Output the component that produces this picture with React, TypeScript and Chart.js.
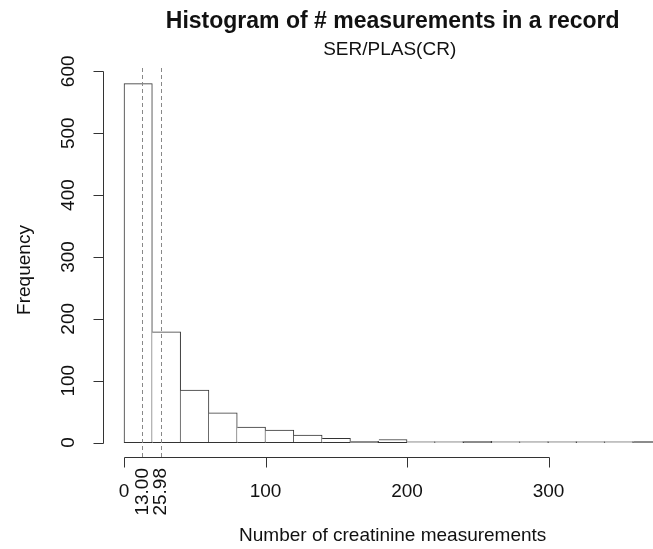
import React, { useEffect, useRef } from "react";
import { Chart, registerables } from "chart.js";

Chart.register(...registerables);

const binStarts = [0, 20, 40, 60, 80, 100, 120, 140, 160, 180, 200, 220, 240, 260, 280, 300, 320, 340, 360];
const binWidth = 20;
const counts = [580, 179, 85, 48, 25, 20, 12, 7, 2, 5, 1, 1, 2, 1, 1, 1, 1, 1, 2];
const yTicks = [0, 100, 200, 300, 400, 500, 600];
const xTicks = [0, 100, 200, 300];
const markerValues = [13.0, 25.98];
const markerLabels = ["13.00", "25.98"];
const titleText = "Histogram of # measurements in a record";
const subtitleText = "SER/PLAS(CR)";
const xTitle = "Number of creatinine measurements";
const yTitle = "Frequency";

const FONT = "'Liberation Sans', Arial, Helvetica, sans-serif";
const INK = "#333";
const PLOT_CENTER_X = 392.7;

const rPlugin = {
  id: "rStyle",
  afterDatasetsDraw(chart: any) {
    const { ctx, chartArea, scales } = chart;
    const xs = scales.x;
    ctx.save();
    ctx.strokeStyle = "#888";
    ctx.lineWidth = 1;
    ctx.setLineDash([4, 3]);
    markerValues.forEach((v) => {
      const px = Math.round(xs.getPixelForValue(v)) + 0.5;
      ctx.beginPath();
      ctx.moveTo(px, chartArea.top);
      ctx.lineTo(px, chartArea.bottom);
      ctx.stroke();
    });
    ctx.setLineDash([]);
    ctx.restore();
  },
  afterDraw(chart: any) {
    const { ctx, chartArea, scales } = chart;
    const xs = scales.x;
    const ys = scales.y;
    ctx.save();
    ctx.strokeStyle = INK;
    ctx.fillStyle = "#111";
    ctx.lineWidth = 1;

    // y axis
    const ax = Math.round(chartArea.left) + 0.5;
    const y0 = ys.getPixelForValue(yTicks[0]);
    const y1 = ys.getPixelForValue(yTicks[yTicks.length - 1]);
    ctx.beginPath();
    ctx.moveTo(ax, Math.round(y0) + 0.5);
    ctx.lineTo(ax, Math.round(y1) + 0.5);
    yTicks.forEach((t) => {
      const py = Math.round(ys.getPixelForValue(t)) + 0.5;
      ctx.moveTo(ax, py);
      ctx.lineTo(ax - 10, py);
    });
    ctx.stroke();
    ctx.font = `19px ${FONT}`;
    ctx.textAlign = "center";
    ctx.textBaseline = "middle";
    yTicks.forEach((t) => {
      const py = ys.getPixelForValue(t);
      ctx.save();
      ctx.translate(69, py);
      ctx.rotate(-Math.PI / 2);
      ctx.fillText(String(t), 0, 0);
      ctx.restore();
    });

    // x axis
    const by = Math.round(chartArea.bottom) + 0.5;
    const x0 = xs.getPixelForValue(xTicks[0]);
    const x1 = xs.getPixelForValue(xTicks[xTicks.length - 1]);
    ctx.beginPath();
    ctx.moveTo(Math.round(x0) + 0.5, by);
    ctx.lineTo(Math.round(x1) + 0.5, by);
    xTicks.forEach((t) => {
      const px = Math.round(xs.getPixelForValue(t)) + 0.5;
      ctx.moveTo(px, by);
      ctx.lineTo(px, by + 10);
    });
    ctx.stroke();
    ctx.textAlign = "center";
    ctx.textBaseline = "middle";
    xTicks.forEach((t) => {
      ctx.fillText(String(t), xs.getPixelForValue(t), 492);
    });
    markerValues.forEach((v, i) => {
      ctx.save();
      ctx.translate(xs.getPixelForValue(v), 468);
      ctx.rotate(-Math.PI / 2);
      ctx.textAlign = "right";
      ctx.textBaseline = "middle";
      ctx.fillText(markerLabels[i], 0, 0);
      ctx.restore();
    });

    // axis titles
    ctx.fillText(xTitle, PLOT_CENTER_X, 536);
    ctx.save();
    ctx.translate(25, 270);
    ctx.rotate(-Math.PI / 2);
    ctx.fillText(yTitle, 0, 0);
    ctx.restore();

    // titles
    ctx.font = `bold 23px ${FONT}`;
    ctx.fillText(titleText, PLOT_CENTER_X, 22);
    ctx.font = `19px ${FONT}`;
    ctx.fillText(subtitleText, PLOT_CENTER_X - 3, 50);
    ctx.restore();
  },
};

export default function App() {
  const ref = useRef<HTMLCanvasElement>(null);
  useEffect(() => {
    if (!ref.current) return;
    const data = binStarts.map((s, i) => ({ x: s + binWidth / 2, y: counts[i] }));
    const chart = new Chart(ref.current, {
      type: "bar",
      data: {
        datasets: [
          {
            data,
            backgroundColor: "#ffffff",
            borderColor: INK,
            borderWidth: (c: any) => ({ top: 1, right: 1, bottom: 1, left: c.dataIndex === 0 ? 1 : 0 }),
            borderSkipped: false,
            barPercentage: 1,
            categoryPercentage: 1,
            minBarLength: 1,
          } as any,
        ],
      },
      options: {
        responsive: false,
        animation: false,
        devicePixelRatio: 1,
        layout: { padding: { left: 102.5, right: 0, top: 68, bottom: 92 } },
        plugins: { legend: { display: false }, tooltip: { enabled: false }, title: { display: false } },
        scales: {
          x: { type: "linear", min: -15.2, max: 373.8, offset: false, display: false },
          y: { type: "linear", min: -23.3, max: 605.3, display: false },
        },
      },
      plugins: [rPlugin],
    });
    return () => chart.destroy();
  }, []);
  return (
    <div style={{ position: "fixed", left: 0, top: 0, width: 653, height: 549, background: "#fff" }}>
      <canvas ref={ref} width={653} height={549} style={{ width: 653, height: 549, display: "block" }} />
    </div>
  );
}
